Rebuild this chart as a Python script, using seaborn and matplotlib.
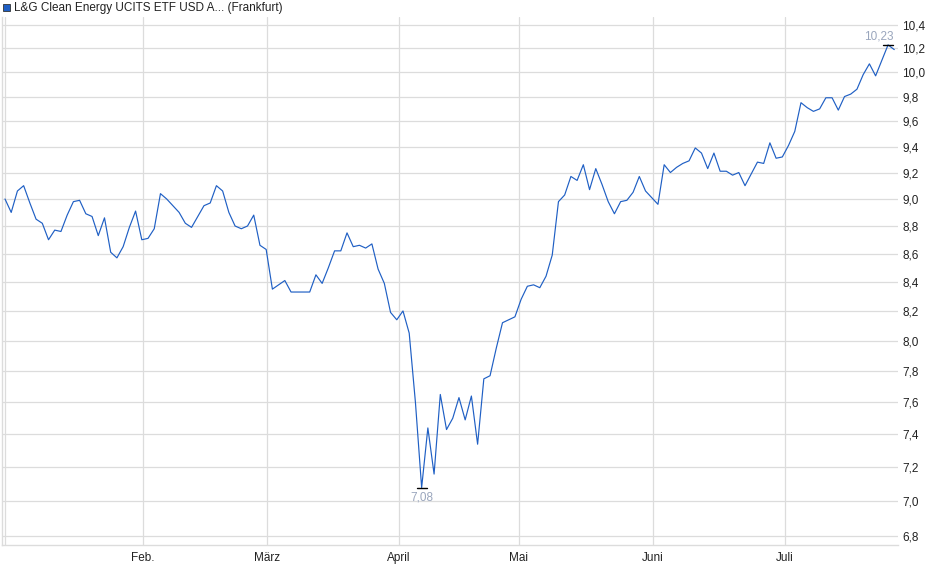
import numpy as np
import pandas as pd
import matplotlib
matplotlib.use("Agg")
import matplotlib.pyplot as plt
from matplotlib.ticker import FixedLocator, FuncFormatter, NullLocator
import seaborn as sns

# --- Data (one value per trading day, Jan-Jul) ---
prices = [
    9.00, 8.90, 9.06, 9.10, 8.97, 8.85, 8.82, 8.70, 8.77, 8.76,
    8.88, 8.98, 8.99, 8.89, 8.87, 8.73, 8.86, 8.61, 8.57, 8.65,
    8.79, 8.91, 8.70, 8.71, 8.78, 9.04, 9.00, 8.95, 8.90, 8.82,
    8.79, 8.87, 8.95, 8.97, 9.10, 9.06, 8.90, 8.80, 8.78, 8.80,
    8.88, 8.66, 8.63, 8.35, 8.38, 8.41, 8.33, 8.33, 8.33, 8.33,
    8.45, 8.39, 8.50, 8.62, 8.62, 8.75, 8.65, 8.66, 8.64, 8.67,
    8.49, 8.39, 8.19, 8.14, 8.20, 8.05, 7.60, 7.08, 7.44, 7.16,
    7.65, 7.43, 7.50, 7.63, 7.49, 7.64, 7.34, 7.75, 7.77, 7.95,
    8.12, 8.14, 8.16, 8.28, 8.37, 8.38, 8.36, 8.44, 8.59, 8.98,
    9.03, 9.17, 9.14, 9.26, 9.07, 9.23, 9.11, 8.98, 8.89, 8.98,
    8.99, 9.05, 9.17, 9.06, 9.01, 8.96, 9.26, 9.20, 9.24, 9.27,
    9.29, 9.39, 9.35, 9.23, 9.35, 9.21, 9.21, 9.18, 9.20, 9.10,
    9.19, 9.28, 9.27, 9.43, 9.31, 9.32, 9.41, 9.52, 9.75, 9.71,
    9.68, 9.70, 9.79, 9.79, 9.69, 9.80, 9.82, 9.86, 9.98, 10.07,
    9.97, 10.10, 10.23, 10.19,
]
month_labels = ["", "Feb.", "März", "April", "Mai", "Juni", "Juli"]
month_pos = [0.0, 22.2, 42.1, 63.3, 82.6, 104.2, 125.4]
y_ticks = [6.8, 7.0, 7.2, 7.4, 7.6, 7.8, 8.0, 8.2, 8.4, 8.6, 8.8, 9.0,
           9.2, 9.4, 9.6, 9.8, 10.0, 10.2, 10.4]
title = "L&G Clean Energy UCITS ETF USD A... (Frankfurt)"

df = pd.DataFrame({"day": np.arange(len(prices)), "price": prices})

sns.set_style("white")
plt.rcParams["font.family"] = ["Liberation Sans", "DejaVu Sans"]

LINE = "#1f5fc4"
GRID = "#dcdcdc"
W, H = 940, 579

fig = plt.figure(figsize=(W / 100, H / 100), dpi=100)
ax = fig.add_axes([2 / W, 1 - 545 / H, 896 / W, 528 / H])

sns.lineplot(data=df, x="day", y="price", ax=ax, color=LINE, linewidth=0.85)

ax.set_yscale("log")
ax.set_ylim(6.75, 10.47)
ax.set_xlim(-0.48, 143.6)

ax.yaxis.set_major_locator(FixedLocator(y_ticks))
ax.yaxis.set_minor_locator(NullLocator())
ax.yaxis.set_major_formatter(FuncFormatter(lambda v, p: f"{v:.1f}".replace(".", ",")))
ax.yaxis.tick_right()
ax.tick_params(axis="y", length=0, pad=3, labelsize=8.5, labelcolor="#222222")

ax.set_xticks(month_pos)
ax.set_xticklabels(month_labels)
ax.tick_params(axis="x", length=0, pad=5, labelsize=8.5, labelcolor="#222222")

ax.grid(True, color=GRID, linewidth=0.9)
ax.set_axisbelow(True)
ax.set_xlabel("")
ax.set_ylabel("")

for side in ["top", "right"]:
    ax.spines[side].set_visible(False)
for side in ["left", "bottom"]:
    ax.spines[side].set_color(GRID)
    ax.spines[side].set_linewidth(1.0)

# min / max markers
lo = int(np.argmin(prices))
hi = int(np.argmax(prices))
ax.plot([lo - 0.8, lo + 0.8], [prices[lo]] * 2, color="black", lw=1.0)
ax.plot([hi - 0.8, hi + 0.8], [prices[hi]] * 2, color="black", lw=1.0)
ax.annotate(f"{prices[lo]:.2f}".replace(".", ","), (lo, prices[lo]),
            xytext=(0, -3), textcoords="offset points", ha="center", va="top",
            fontsize=8.5, color="#9aa6bd")
ax.annotate(f"{prices[hi]:.2f}".replace(".", ","), (hi, prices[hi]),
            xytext=(-7, 2), textcoords="offset points", ha="center", va="bottom",
            fontsize=8.5, color="#9aa6bd")

# legend-like title
fig.patches.append(plt.Rectangle((3 / W, 1 - 11 / H), 7 / W, 7 / H,
                                 transform=fig.transFigure, facecolor=LINE,
                                 edgecolor="#333333", linewidth=0.6))
fig.text(14 / W, 1 - 7.5 / H, title, fontsize=8.5, color="#222222", va="center")

fig.savefig("out.png", dpi=100, facecolor="white")
